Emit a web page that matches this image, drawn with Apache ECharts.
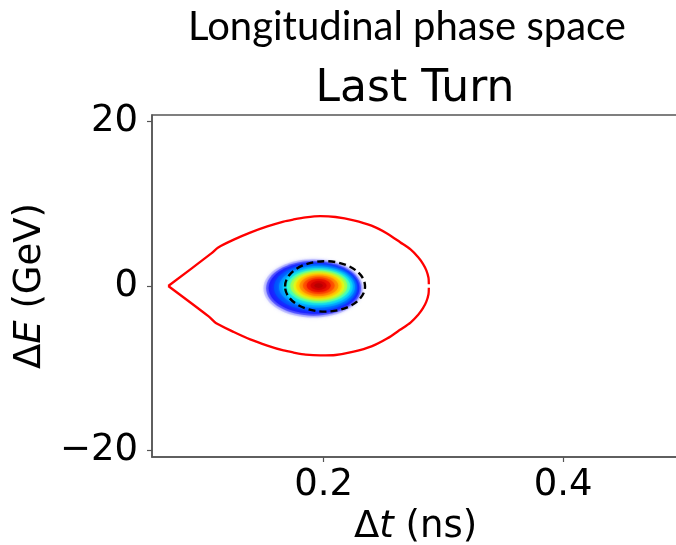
<!DOCTYPE html>
<html><head><meta charset="utf-8">
<script src="https://cdn.jsdelivr.net/npm/echarts@6/dist/echarts.min.js"></script>
<style>html,body{margin:0;padding:0;background:#fff}#c{width:676px;height:545px}</style>
</head><body><div id="c"></div>
<script>
// axis ranges and ticks
const xRange = [0.0567, 0.4968];
const yRange = [-20.82, 20.82];
const xTicks = [0.2, 0.4];
const yTicks = [-20, 0, 20];

// separatrix, upper half: cusp -> right end
const sepUpperT = [0.0703, 0.1065, 0.1120, 0.1250, 0.1387, 0.1530, 0.1665, 0.1749, 0.1850, 0.1972, 0.2100, 0.2251, 0.2400, 0.2530, 0.2642, 0.2726, 0.2790, 0.2830, 0.2858, 0.2876, 0.2879];
const sepUpperE = [0, 4.0, 4.7, 5.65, 6.5, 7.25, 7.85, 8.1, 8.35, 8.5, 8.4, 8.0, 7.35, 6.4, 5.3, 4.45, 3.5, 2.7, 1.9, 1.0, 0.2];
// lower half: cusp -> right end
const sepLowerT = [0.0703, 0.1040, 0.1100, 0.1250, 0.1387, 0.1530, 0.1665, 0.1749, 0.1850, 0.1972, 0.2100, 0.2251, 0.2400, 0.2530, 0.2642, 0.2726, 0.2790, 0.2830, 0.2858, 0.2876, 0.2879];
const sepLowerE = [0, -3.7, -4.5, -5.6, -6.5, -7.25, -7.85, -8.1, -8.35, -8.45, -8.4, -8.0, -7.35, -6.4, -5.3, -4.45, -3.5, -2.7, -1.9, -1.0, -0.2];

// beam density levels (outer -> inner): centre, half-widths, colour
const beamCenterT = [0.1912, 0.1916, 0.1920, 0.1933, 0.1945, 0.1951, 0.1958, 0.1960, 0.1961, 0.1961, 0.1961, 0.1960, 0.1959, 0.1958, 0.1958];
const beamCenterE = [-0.30, -0.28, -0.25, -0.18, -0.12, -0.08, -0.03, 0.0, 0.0, 0.02, 0.03, 0.05, 0.05, 0.05, 0.05];
const beamHalfT = [0.0415, 0.0396, 0.0378, 0.0347, 0.0317, 0.0292, 0.0264, 0.0237, 0.0212, 0.0190, 0.0162, 0.0132, 0.0100, 0.0066, 0.0035];
const beamHalfE = [3.55, 3.33, 3.12, 2.82, 2.52, 2.27, 2.02, 1.80, 1.62, 1.46, 1.26, 1.03, 0.79, 0.53, 0.28];
const beamColors = ['rgba(150,150,255,0.35)', 'rgba(70,70,255,0.65)', '#1e1eff', '#0050ff', '#0090ff', '#00ccff', '#30ffd0', '#90ff60', '#d8ff20', '#ffd800', '#ff9800', '#ff5800', '#f01800', '#d80000', '#b80000'];

// rms ellipse (dashed)
const rmsCenterT = [0.2012];
const rmsCenterE = [-0.05];
const rmsHalfT = [0.0334];
const rmsHalfE = [3.07];

const chart = echarts.init(document.getElementById('c'), null, {renderer: 'canvas'});

const FONT = 'DejaVu Sans';

function ellipseRender(fillFn, strokeStyle) {
  return function (params, api) {
    const c = api.coord([api.value(0), api.value(1)]);
    const s = api.size([api.value(2), api.value(3)]);
    const style = strokeStyle ? Object.assign({fill: null}, strokeStyle) : {fill: fillFn(params.dataIndex), shadowBlur: 4, shadowColor: fillFn(params.dataIndex)};
    return {type: 'ellipse', shape: {cx: c[0], cy: c[1], rx: s[0], ry: s[1]}, style: style};
  };
}

const beamData = beamCenterT.map((t, i) => [t, beamCenterE[i], beamHalfT[i], beamHalfE[i]]);
const rmsData = rmsCenterT.map((t, i) => [t, rmsCenterE[i], rmsHalfT[i], rmsHalfE[i]]);

chart.setOption({
  animation: false,
  backgroundColor: '#fff',
  graphic: [
    {type: 'text', x: 407, y: 27, style: {text: 'Longitudinal phase space', font: '40px Lato', fill: '#000', textAlign: 'center', textVerticalAlign: 'middle'}},
    {type: 'text', x: 415, y: 90, style: {text: 'Last Turn', font: '44px "DejaVu Sans"', fill: '#000', textAlign: 'center', textVerticalAlign: 'middle'}}
  ],
  grid: {left: 152, top: 115, right: -3, bottom: 88, show: true, borderColor: '#555', borderWidth: 1.5, backgroundColor: 'transparent', containLabel: false, outerBoundsMode: 'none'},
  xAxis: {
    type: 'value', min: xRange[0], max: xRange[1],
    axisLine: {show: true, onZero: false, lineStyle: {color: '#555', width: 1.5}},
    axisTick: {show: true, customValues: xTicks, length: 5, lineStyle: {color: '#555', width: 1.2}},
    axisLabel: {customValues: xTicks, fontSize: 37, fontFamily: FONT, color: '#000', margin: 10, formatter: v => v.toFixed(1)},
    splitLine: {show: false},
    name: '{n|Δ}{i|t}{n| (ns)}', nameLocation: 'middle', nameGap: 52,
    nameTextStyle: {rich: {n: {fontSize: 37, fontFamily: FONT, color: '#000'}, i: {fontSize: 37, fontFamily: FONT, fontStyle: 'italic', color: '#000'}}}
  },
  yAxis: {
    type: 'value', min: yRange[0], max: yRange[1],
    axisLine: {show: true, onZero: false, lineStyle: {color: '#555', width: 1.5}},
    axisTick: {show: true, customValues: yTicks, length: 5, lineStyle: {color: '#555', width: 1.2}},
    axisLabel: {customValues: yTicks, fontSize: 37, fontFamily: FONT, color: '#000', margin: 14, formatter: v => v < 0 ? '\u2212' + Math.abs(v) : String(v)},
    splitLine: {show: false},
    name: '{n|Δ}{i|E}{n| (GeV)}', nameLocation: 'middle', nameGap: 100, nameRotate: 90,
    nameTextStyle: {rich: {n: {fontSize: 37, fontFamily: FONT, color: '#000'}, i: {fontSize: 37, fontFamily: FONT, fontStyle: 'italic', color: '#000'}}}
  },
  series: [
    {type: 'custom', z: 2, data: beamData, renderItem: ellipseRender(i => beamColors[i]), silent: true},
    {type: 'custom', z: 3, data: rmsData, renderItem: ellipseRender(null, {stroke: '#000', lineWidth: 2.4, lineDash: [7, 4]}), silent: true},
    {type: 'line', z: 4, data: sepUpperT.map((t, i) => [t, sepUpperE[i]]), showSymbol: false, symbol: 'none', smooth: 0.25, lineStyle: {color: '#ff0000', width: 2.3}},
    {type: 'line', z: 4, data: sepLowerT.map((t, i) => [t, sepLowerE[i]]), showSymbol: false, symbol: 'none', smooth: 0.25, lineStyle: {color: '#ff0000', width: 2.3}}
  ]
});
</script>
</body></html>
